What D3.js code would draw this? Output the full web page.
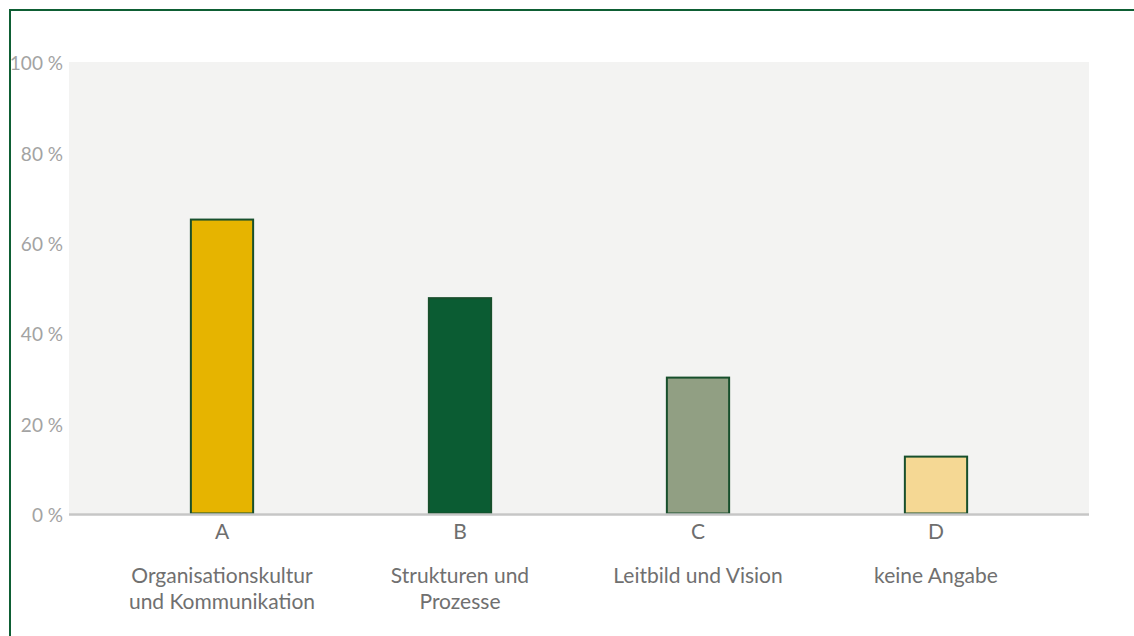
<!DOCTYPE html>
<html><head><meta charset="utf-8">
<script src="https://cdn.jsdelivr.net/npm/d3@7"></script>
<style>
html,body{margin:0;padding:0;background:#fff;}
svg{display:block;}
</style></head>
<body>
<svg id="chart" width="1134" height="636"></svg>
<script>
const letters = ["A","B","C","D"];
const categoryLines = [
  ["Organisationskultur","und Kommunikation"],
  ["Strukturen und","Prozesse"],
  ["Leitbild und Vision"],
  ["keine Angabe"]
];
const values = [65.1, 47.7, 30.1, 12.6];
const colors = ["#e6b400","#0b5c33","#919f83","#f5d894"];
const yTicks = [0,20,40,60,80,100];
const yTickLabels = ["0 %","20 %","40 %","60 %","80 %","100 %"];

const svg = d3.select("#chart");
const plot = {left:69, right:1089, top:62, bottom:513.5};

// outer frame (top and left only)
svg.append("path")
  .attr("d", `M10,636 L10,10 L1134,10`)
  .attr("fill","none").attr("stroke","#0e5e34").attr("stroke-width",2);

svg.append("rect")
  .attr("x",plot.left).attr("y",plot.top)
  .attr("width",plot.right-plot.left).attr("height",plot.bottom-plot.top)
  .attr("fill","#f3f3f2");

const x = d3.scaleBand().domain(letters).range([plot.left+34, plot.right-34]).paddingInner(0.73).paddingOuter(0.365);
const y = d3.scaleLinear().domain([0,100]).range([plot.bottom, plot.top]);

// y tick labels
const yAxis = d3.axisLeft(y).tickValues(yTicks).tickFormat((d,i)=>yTickLabels[i]).tickSize(0).tickPadding(6);
const gy = svg.append("g").attr("transform",`translate(${plot.left},0)`).call(yAxis);
gy.select(".domain").remove();
gy.selectAll("text").attr("fill","#a3a3a3").attr("dy","0.42em")
  .style("font-family","Lato, 'Open Sans', sans-serif").style("font-size","19px");

// bars
svg.append("g").selectAll("rect").data(values).join("rect")
  .attr("x",(d,i)=>x(letters[i])+1)
  .attr("y",d=>y(d))
  .attr("width",x.bandwidth()-2)
  .attr("height",d=>y(0)-y(d))
  .attr("fill",(d,i)=>colors[i])
  .attr("stroke","#174f2c").attr("stroke-width",2);

// baseline
svg.append("line").attr("x1",plot.left).attr("x2",plot.right)
  .attr("y1",plot.bottom+1).attr("y2",plot.bottom+1)
  .attr("stroke","#c6c6c6").attr("stroke-width",2.5);

// x axis letters
const xAxis = d3.axisBottom(x).tickSize(0).tickPadding(0);
const gx = svg.append("g").attr("transform",`translate(0,${plot.bottom})`).call(xAxis);
gx.select(".domain").remove();
gx.selectAll("text").attr("y",11).attr("dy","0.71em").attr("fill","#6e6e6e")
  .style("font-family","Lato, 'Open Sans', sans-serif").style("font-size","21px");

// category labels
const lab = svg.append("g");
letters.forEach((l,i)=>{
  const t = lab.append("text").attr("x",x(l)+x.bandwidth()/2).attr("y",583)
    .attr("text-anchor","middle").attr("fill","#707070")
    .style("font-family","Lato, 'Open Sans', sans-serif").style("font-size","21px");
  categoryLines[i].forEach((line,j)=>{
    t.append("tspan").attr("x",x(l)+x.bandwidth()/2).attr("y",583+j*26).text(line);
  });
});
</script>
</body></html>
